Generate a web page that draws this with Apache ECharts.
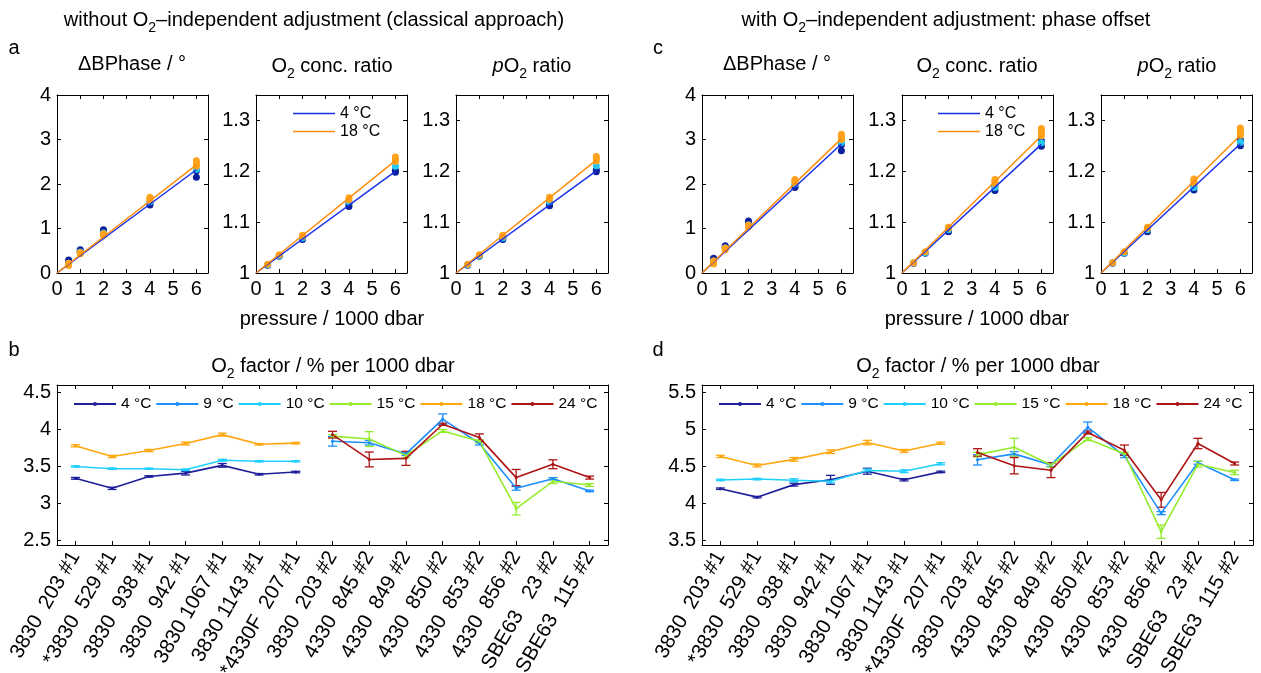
<!DOCTYPE html>
<html><head><meta charset="utf-8">
<script src="https://cdn.jsdelivr.net/npm/echarts@6/dist/echarts.min.js"></script>
<style>html,body{margin:0;padding:0;background:#fff}#c{width:1261px;height:673px}</style>
</head><body><div id="c"></div>
<script>
// ---------- data: top panels (pressure in 1000 dbar) ----------
const pressures = [0.5, 1, 2, 4, 6];
const fitX = [0, 6];
const xTicksTop = [0, 1, 2, 3, 4, 5, 6];
const yTicksPhase = [0, 1, 2, 3, 4];
const yTicksRatio = [1, 1.1, 1.2, 1.3];

// a: classical approach
const a1Navy   = [[0.25, 0.29], [0.48, 0.52], [0.93, 0.97], [1.53, 1.56], [2.15, 2.30]];
const a1Cyan   = [[0.22], [0.47], [0.9], [1.6], [2.33]];
const a1Orange = [[0.17, 0.20, 0.22], [0.43, 0.46], [0.85, 0.88], [1.64, 1.67, 1.70], [2.40, 2.44, 2.48, 2.52]];
const a1Fit4 = [0, 2.32], a1Fit18 = [0, 2.43];

const a2Navy   = [[1.015], [1.033], [1.066, 1.068], [1.131, 1.136], [1.198, 1.202]];
const a2Cyan   = [[1.016], [1.034], [1.069], [1.14], [1.21]];
const a2Orange = [[1.017], [1.036], [1.072, 1.074], [1.144, 1.148], [1.219, 1.224, 1.228]];
const a2Fit4 = [1, 1.200], a2Fit18 = [1, 1.221];

const a3Navy   = [[1.015], [1.033], [1.066, 1.068], [1.132, 1.137], [1.199, 1.203]];
const a3Cyan   = [[1.016], [1.034], [1.069], [1.14], [1.211]];
const a3Orange = [[1.017], [1.036], [1.072, 1.074], [1.145, 1.149], [1.220, 1.225, 1.229]];
const a3Fit4 = [1, 1.201], a3Fit18 = [1, 1.222];

// c: with phase offset
const c1Navy   = [[0.30, 0.33], [0.57, 0.61], [1.12, 1.17], [1.92, 1.95], [2.75, 2.88]];
const c1Cyan   = [[0.27], [0.56], [1.08], [2.0], [2.93]];
const c1Orange = [[0.20, 0.24, 0.27], [0.52, 0.56], [1.04, 1.08], [2.04, 2.07, 2.10], [3.00, 3.04, 3.08, 3.12]];
const c1Fit4 = [0, 2.90], c1Fit18 = [0, 3.02];

const c2Navy   = [[1.019], [1.039], [1.081, 1.084], [1.162, 1.170], [1.249, 1.260]];
const c2Cyan   = [[1.02], [1.04], [1.085], [1.168], [1.256]];
const c2Orange = [[1.020], [1.042], [1.088, 1.090], [1.176, 1.180, 1.184], [1.270, 1.275, 1.280, 1.284]];
const c2Fit4 = [1, 1.253], c2Fit18 = [1, 1.270];

const c3Navy   = [[1.019], [1.039], [1.081, 1.084], [1.163, 1.171], [1.250, 1.261]];
const c3Cyan   = [[1.02], [1.04], [1.085], [1.168], [1.257]];
const c3Orange = [[1.020], [1.042], [1.088, 1.090], [1.177, 1.181, 1.185], [1.271, 1.276, 1.281, 1.285]];
const c3Fit4 = [1, 1.254], c3Fit18 = [1, 1.271];

// ---------- data: bottom panels (O2 factor, % per 1000 dbar) ----------
const sensors = ['3830  203 #1', '*3830  529 #1', '3830  938 #1', '3830  942 #1', '3830 1067 #1',
  '3830 1143 #1', '*4330F  207 #1', '3830  203 #2', '4330  845 #2', '4330  849 #2', '4330  850 #2',
  '4330  853 #2', '4330  856 #2', 'SBE63   23 #2', 'SBE63  115 #2'];
const temps = ['4 °C', '9 °C', '10 °C', '15 °C', '18 °C', '24 °C'];
const yTicksB = [2.5, 3, 3.5, 4, 4.5];
const yTicksD = [3.5, 4, 4.5, 5, 5.5];
const _ = null;

const b4   = [3.34, 3.205, 3.365, 3.41, 3.515, 3.395, 3.425, _, _, _, _, _, _, _, _];
const b4e  = [0.012, 0.015, 0.01, 0.025, 0.025, 0.01, 0.01, _, _, _, _, _, _, _, _];
const b9   = [_, _, _, _, _, _, _, 3.84, 3.82, 3.67, 4.14, 3.81, 3.205, 3.335, 3.17];
const b9e  = [_, _, _, _, _, _, _, 0.065, 0.03, 0.02, 0.07, 0.02, 0.025, 0.015, 0.01];
const b10  = [3.50, 3.47, 3.47, 3.455, 3.585, 3.57, 3.57, _, _, _, _, _, _, _, _];
const b10e = [0.01, 0.01, 0.008, 0.01, 0.012, 0.008, 0.008, _, _, _, _, _, _, _, _];
const b15  = [_, _, _, _, _, _, _, 3.91, 3.87, 3.65, 3.98, 3.84, 2.93, 3.30, 3.25];
const b15e = [_, _, _, _, _, _, _, 0.02, 0.1, 0.03, 0.02, 0.02, 0.085, 0.03, 0.02];
const b18  = [3.78, 3.635, 3.715, 3.81, 3.93, 3.80, 3.815, _, _, _, _, _, _, _, _];
const b18e = [0.015, 0.015, 0.015, 0.02, 0.02, 0.01, 0.01, _, _, _, _, _, _, _, _];
const b24  = [_, _, _, _, _, _, _, 3.93, 3.595, 3.61, 4.07, 3.89, 3.35, 3.53, 3.35];
const b24e = [_, _, _, _, _, _, _, 0.045, 0.1, 0.095, 0.015, 0.05, 0.11, 0.06, 0.02];

const d4   = [4.20, 4.086, 4.255, 4.32, 4.436, 4.32, 4.427, _, _, _, _, _, _, _, _];
const d4e  = [0.01, 0.01, 0.02, 0.06, 0.04, 0.015, 0.01, _, _, _, _, _, _, _, _];
const d9   = [_, _, _, _, _, _, _, 4.59, 4.67, 4.52, 5.03, 4.64, 3.87, 4.55, 4.32];
const d9e  = [_, _, _, _, _, _, _, 0.07, 0.03, 0.02, 0.07, 0.02, 0.02, 0.02, 0.01];
const d10  = [4.318, 4.33, 4.315, 4.30, 4.445, 4.436, 4.536, _, _, _, _, _, _, _, _];
const d10e = [0.01, 0.01, 0.02, 0.02, 0.02, 0.02, 0.015, _, _, _, _, _, _, _, _];
const d15  = [_, _, _, _, _, _, _, 4.66, 4.76, 4.52, 4.87, 4.67, 3.62, 4.53, 4.42];
const d15e = [_, _, _, _, _, _, _, 0.03, 0.12, 0.03, 0.02, 0.02, 0.09, 0.04, 0.03];
const d18  = [4.636, 4.514, 4.596, 4.70, 4.823, 4.71, 4.814, _, _, _, _, _, _, _, _];
const d18e = [0.015, 0.02, 0.025, 0.025, 0.03, 0.02, 0.015, _, _, _, _, _, _, _, _];
const d24  = [_, _, _, _, _, _, _, 4.69, 4.51, 4.45, 4.96, 4.72, 4.05, 4.81, 4.54];
const d24e = [_, _, _, _, _, _, _, 0.05, 0.11, 0.1, 0.02, 0.07, 0.1, 0.07, 0.02];

// ---------- styling ----------
const FONT = "'Liberation Sans', Arial, Helvetica, sans-serif";
const tempColors = ['#1f1f9a', '#1e8fff', '#1fd0ff', '#95ec2e', '#ffa70f', '#ad1414'];
const dotNavy = '#0b1f9c', dotCyan = '#25c8f0', dotOrange = '#ffa21c';
const fit4Color = '#1830e8', fit18Color = '#ff8c0a';

const chart = echarts.init(document.getElementById('c'));

const grids = [], xAxes = [], yAxes = [], series = [];

function tickAxis(extra) {
  return Object.assign({
    axisLine: { show: true, onZero: false, lineStyle: { color: '#000', width: 1 } },
    axisTick: { show: true, inside: true, length: 4, lineStyle: { color: '#000' } },
    splitLine: { show: false },
    axisLabel: { color: '#000', fontSize: 20, fontFamily: FONT, margin: 6 }
  }, extra);
}

function addGrid(box, xCfg, yCfg) {
  const gi = grids.length;
  grids.push(Object.assign({ containLabel: false, outerBoundsMode: 'none' }, box));
  const xb = tickAxis(Object.assign({ gridIndex: gi, position: 'bottom' }, xCfg));
  const xt = tickAxis(Object.assign({ gridIndex: gi, position: 'top' }, xCfg));
  xt.axisLabel = { show: false };
  const yl = tickAxis(Object.assign({ gridIndex: gi, position: 'left' }, yCfg));
  const yr = tickAxis(Object.assign({ gridIndex: gi, position: 'right' }, yCfg));
  yr.axisLabel = { show: false };
  if (xCfg._ticks) { xb.axisTick = Object.assign({}, xb.axisTick, { customValues: xCfg._ticks }); xb.axisLabel = Object.assign({}, xb.axisLabel, { customValues: xCfg._ticks });
    xt.axisTick = Object.assign({}, xt.axisTick, { customValues: xCfg._ticks }); }
  if (yCfg._ticks) { yl.axisTick = Object.assign({}, yl.axisTick, { customValues: yCfg._ticks }); yl.axisLabel = Object.assign({}, yl.axisLabel, { customValues: yCfg._ticks });
    yr.axisTick = Object.assign({}, yr.axisTick, { customValues: yCfg._ticks }); }
  [xb, xt, yl, yr].forEach(a => delete a._ticks);
  xAxes.push(xb, xt); yAxes.push(yl, yr);
  return { xAxisIndex: 2 * gi, yAxisIndex: 2 * gi };
}

function pts(arr) {
  const out = [];
  arr.forEach((vals, i) => vals.forEach(v => out.push([pressures[i], v])));
  return out;
}

function topPanel(box, ymin, ymax, yt, navy, cyan, orange, f4, f18) {
  const ax = addGrid(box,
    { type: 'value', min: 0, max: 6.5, _ticks: xTicksTop },
    { type: 'value', min: ymin, max: ymax, _ticks: yt });
  [[navy, dotNavy], [cyan, dotCyan], [orange, dotOrange]].forEach(([arr, col]) => {
    series.push(Object.assign({ type: 'scatter', data: pts(arr), symbolSize: 7,
      itemStyle: { color: col, opacity: 1 }, z: 2, silent: true }, ax));
  });
  [[f4, fit4Color, 'fit4'], [f18, fit18Color, 'fit18']].forEach(([f, col, nm]) => {
    series.push(Object.assign({ type: 'line', name: nm, data: fitX.map((x, i) => [x, f[i]]),
      symbol: 'none', lineStyle: { color: col, width: 1.5 }, itemStyle: { color: col }, z: 3, silent: true }, ax));
  });
}

const TOP = 95, TOPH = 178;
topPanel({ left: 57, top: TOP, width: 151, height: TOPH }, 0, 4, yTicksPhase, a1Navy, a1Cyan, a1Orange, a1Fit4, a1Fit18);
topPanel({ left: 256, top: TOP, width: 151, height: TOPH }, 1, 1.35, yTicksRatio, a2Navy, a2Cyan, a2Orange, a2Fit4, a2Fit18);
topPanel({ left: 456, top: TOP, width: 152, height: TOPH }, 1, 1.35, yTicksRatio, a3Navy, a3Cyan, a3Orange, a3Fit4, a3Fit18);
topPanel({ left: 702, top: TOP, width: 151, height: TOPH }, 0, 4, yTicksPhase, c1Navy, c1Cyan, c1Orange, c1Fit4, c1Fit18);
topPanel({ left: 902, top: TOP, width: 151, height: TOPH }, 1, 1.35, yTicksRatio, c2Navy, c2Cyan, c2Orange, c2Fit4, c2Fit18);
topPanel({ left: 1101, top: TOP, width: 151, height: TOPH }, 1, 1.35, yTicksRatio, c3Navy, c3Cyan, c3Orange, c3Fit4, c3Fit18);

function errSeries(ax, vals, errs, color) {
  const data = [];
  vals.forEach((v, i) => { if (v != null) data.push([i, v - errs[i], v + errs[i]]); });
  return Object.assign({
    type: 'custom', data, encode: { x: 0, y: [1, 2] }, z: 2, silent: true,
    renderItem(params, api) {
      const x = api.value(0);
      const p1 = api.coord([x, api.value(1)]), p2 = api.coord([x, api.value(2)]);
      const w = 4.5, st = { stroke: color, lineWidth: 1.3 };
      return { type: 'group', children: [
        { type: 'line', shape: { x1: p1[0], y1: p1[1], x2: p2[0], y2: p2[1] }, style: st },
        { type: 'line', shape: { x1: p1[0] - w, y1: p1[1], x2: p1[0] + w, y2: p1[1] }, style: st },
        { type: 'line', shape: { x1: p2[0] - w, y1: p2[1], x2: p2[0] + w, y2: p2[1] }, style: st }
      ] };
    }
  }, ax);
}

function bottomPanel(box, ymin, ymax, yt, vals, errs) {
  const ax = addGrid(box,
    { type: 'category', data: sensors, boundaryGap: true },
    { type: 'value', min: ymin, max: ymax, _ticks: yt });
  const xa = xAxes[ax.xAxisIndex];
  xa.axisTick = Object.assign({}, xa.axisTick, { alignWithLabel: true, interval: 0 });
  xa.axisLabel = Object.assign({}, xa.axisLabel, { rotate: 60, interval: 0, margin: 8, fontSize: 20.5 });
  const xt = xAxes[ax.xAxisIndex + 1];
  xt.axisTick = Object.assign({}, xt.axisTick, { alignWithLabel: true, interval: 0 });
  temps.forEach((t, k) => {
    series.push(errSeries(ax, vals[k], errs[k], tempColors[k]));
  });
  temps.forEach((t, k) => {
    series.push(Object.assign({ type: 'line', name: t, data: vals[k], symbol: 'circle', symbolSize: 3,
      showSymbol: true, connectNulls: false, lineStyle: { color: tempColors[k], width: 1.6 },
      itemStyle: { color: tempColors[k] }, z: 3, silent: true }, ax));
  });
}

bottomPanel({ left: 57, top: 385, width: 551, height: 160 }, 2.44, 4.6, yTicksB,
  [b4, b9, b10, b15, b18, b24], [b4e, b9e, b10e, b15e, b18e, b24e]);
bottomPanel({ left: 702, top: 385, width: 551, height: 160 }, 3.44, 5.6, yTicksD,
  [d4, d9, d10, d15, d18, d24], [d4e, d9e, d10e, d15e, d18e, d24e]);

// ---------- texts ----------
const rich = {
  n: { fontSize: 20, fontFamily: FONT, color: '#000', lineHeight: 30, verticalAlign: 'middle' },
  i: { fontSize: 20, fontFamily: FONT, color: '#000', fontStyle: 'italic', lineHeight: 30, verticalAlign: 'middle' },
  s: { fontSize: 14, fontFamily: FONT, color: '#000', lineHeight: 16, verticalAlign: 'bottom' }
};
function txt(x, y, text) {
  return { type: 'text', x, y, silent: true,
    style: { text, rich, align: 'center', verticalAlign: 'middle', font: '20px ' + FONT, fill: '#000' } };
}
const graphics = [
  txt(314, 20, '{n|without O}{s|2}{n|–independent adjustment (classical approach)}'),
  txt(946, 20, '{n|with O}{s|2}{n|–independent adjustment: phase offset}'),
  txt(14, 48, '{n|a}'), txt(658, 48, '{n|c}'), txt(14, 350, '{n|b}'), txt(658, 350, '{n|d}'),
  txt(132, 64, '{n|ΔBPhase / °}'), txt(332, 66, '{n|O}{s|2}{n| conc. ratio}'), txt(532, 66, '{i|p}{n|O}{s|2}{n| ratio}'),
  txt(777, 64, '{n|ΔBPhase / °}'), txt(977, 66, '{n|O}{s|2}{n| conc. ratio}'), txt(1177, 66, '{i|p}{n|O}{s|2}{n| ratio}'),
  txt(332, 319, '{n|pressure / 1000 dbar}'), txt(977, 319, '{n|pressure / 1000 dbar}'),
  txt(333, 366, '{n|O}{s|2}{n| factor / % per 1000 dbar}'), txt(978, 366, '{n|O}{s|2}{n| factor / % per 1000 dbar}')
];

const fitNames = { fit4: '4 °C', fit18: '18 °C' };
function topLegend(left) {
  return { data: [{ name: 'fit4', icon: 'rect' }, { name: 'fit18', icon: 'rect' }], orient: 'vertical',
    left, top: 105, padding: 0, itemWidth: 42, itemHeight: 1.6,
    itemGap: 1, selectedMode: false, formatter: n => fitNames[n],
    textStyle: { fontSize: 16, fontFamily: FONT, color: '#000', lineHeight: 17 } };
}
function bottomLegend(left) {
  return { data: temps, orient: 'horizontal', left, top: 396, padding: 0, itemWidth: 42, itemHeight: 5,
    itemGap: 4, selectedMode: false, textStyle: { fontSize: 15.5, fontFamily: FONT, color: '#000' } };
}

chart.setOption({
  animation: false,
  backgroundColor: '#fff',
  grid: grids, xAxis: xAxes, yAxis: yAxes, series,
  legend: [topLegend(293), topLegend(938), bottomLegend(73), bottomLegend(718)],
  graphic: graphics
});
</script>
</body></html>
